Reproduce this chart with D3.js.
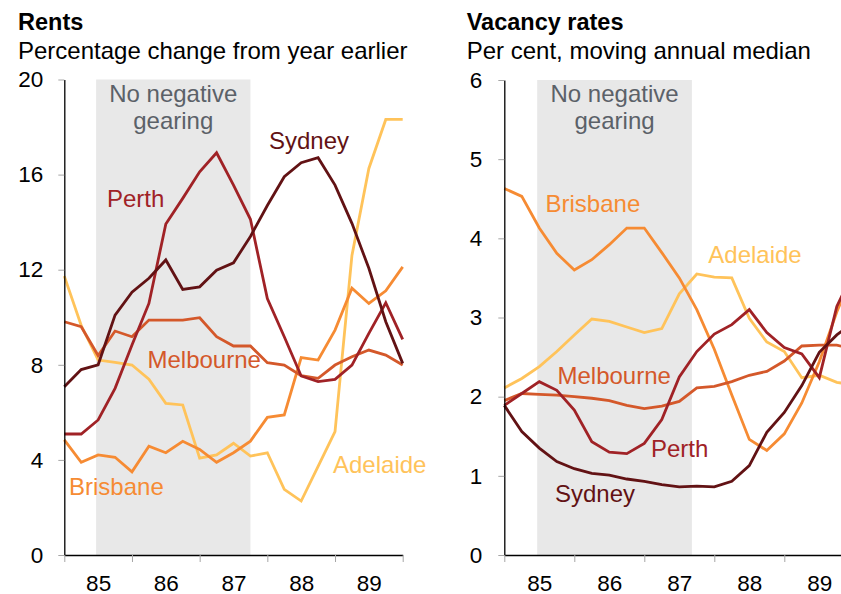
<!DOCTYPE html>
<html>
<head>
<meta charset="utf-8">
<script src="https://cdn.jsdelivr.net/npm/d3@7"></script>
<style>
    html, body { margin: 0; padding: 0; background: #fff; }
    svg { display: block; font-family: "Liberation Sans", Arial, sans-serif; }
</style>
</head>
<body>
<svg id="chart" width="841" height="594"></svg>
<script>
// quarterly observations, 1985 Q1 .. 1990 Q1
const quarters = [1985.00, 1985.25, 1985.50, 1985.75, 1986.00, 1986.25, 1986.50, 1986.75,
    1987.00, 1987.25, 1987.50, 1987.75, 1988.00, 1988.25, 1988.50, 1988.75,
    1989.00, 1989.25, 1989.50, 1989.75, 1990.00];
const yearBreaks = [1985, 1986, 1987, 1988, 1989, 1990];
const yearLabels = ["85", "86", "87", "88", "89"];
const cities = ["Sydney", "Perth", "Melbourne", "Brisbane", "Adelaide"];
const cityColours = ["#621214", "#A02226", "#D4582A", "#F68B33", "#FFC35A"];

// Rents, percentage change from year earlier
const rentSydney    = [7.08, 7.8, 8.0, 10.09, 11.05, 11.64, 12.41, 11.17, 11.28, 11.98, 12.29, 13.4, 14.7, 15.91, 16.5, 16.71, 15.56, 13.95, 12.06, 9.81, 8.06];
const rentPerth     = [5.09, 5.09, 5.68, 7.01, 8.83, 10.58, 13.92, 15.0, 16.12, 16.92, 15.56, 14.12, 10.79, 9.18, 7.53, 7.29, 7.39, 7.99, 9.32, 10.61, 9.07];
const rentMelbourne = [9.81, 9.6, 8.39, 9.42, 9.18, 9.88, 9.88, 9.88, 9.98, 9.18, 8.79, 8.79, 8.09, 7.99, 7.54, 7.43, 7.99, 8.34, 8.62, 8.41, 7.99];
const rentBrisbane  = [4.84, 3.9, 4.21, 4.11, 3.5, 4.58, 4.3, 4.78, 4.44, 3.9, 4.3, 4.79, 5.79, 5.89, 8.3, 8.2, 9.46, 11.22, 10.58, 11.11, 12.12];
const rentAdelaide  = [11.73, 9.65, 8.2, 8.1, 7.99, 7.39, 6.38, 6.31, 4.07, 4.21, 4.7, 4.16, 4.3, 2.76, 2.27, 3.73, 5.19, 12.6, 16.26, 18.32, 18.32];
const rentTicks = [0, 4, 8, 12, 16, 20];

// Vacancy rates, per cent, moving annual median
const vacSydney    = [1.89, 1.56, 1.35, 1.18, 1.09, 1.03, 1.01, 0.96, 0.93, 0.89, 0.86, 0.87, 0.86, 0.93, 1.13, 1.55, 1.80, 2.14, 2.56, 2.78, 2.95];
const vacPerth     = [1.89, 2.04, 2.19, 2.08, 1.83, 1.43, 1.30, 1.28, 1.41, 1.71, 2.25, 2.57, 2.79, 2.91, 3.10, 2.81, 2.62, 2.54, 2.24, 3.14, 3.6];
const vacMelbourne = [1.95, 2.04, 2.03, 2.02, 2.00, 1.98, 1.95, 1.89, 1.85, 1.88, 1.94, 2.11, 2.13, 2.19, 2.27, 2.32, 2.45, 2.64, 2.65, 2.65, 2.6];
const vacBrisbane  = [4.63, 4.53, 4.13, 3.81, 3.60, 3.73, 3.92, 4.13, 4.13, 3.82, 3.50, 3.10, 2.60, 2.02, 1.46, 1.32, 1.53, 1.92, 2.44, 3.07, 3.6];
const vacAdelaide  = [2.11, 2.23, 2.38, 2.57, 2.78, 2.98, 2.95, 2.88, 2.81, 2.86, 3.30, 3.55, 3.51, 3.50, 2.99, 2.69, 2.57, 2.24, 2.27, 2.18, 2.15];
const vacTicks = [0, 1, 2, 3, 4, 5, 6];

// no negative gearing period
const shadeRents = [1985.47, 1987.75];
const shadeVacancy = [1985.47, 1987.68];

const svg = d3.select("#chart");

const drawPanel = (cfg) => {
    const x = d3.scaleLinear().domain([1985, 1990]).range(cfg.xRange);
    const y = d3.scaleLinear().domain([0, cfg.yMax]).range([555, cfg.yTop]);
    const g = svg.append("g");

    g.append("text")
        .attr("x", cfg.titleX).attr("y", 30)
        .attr("font-size", 23.5).attr("font-weight", "bold")
        .text(cfg.title);
    g.append("text")
        .attr("x", cfg.titleX).attr("y", 59)
        .attr("font-size", 24)
        .text(cfg.subtitle);

    g.append("rect")
        .attr("x", x(cfg.shade[0]))
        .attr("y", y(cfg.yMax))
        .attr("width", x(cfg.shade[1]) - x(cfg.shade[0]))
        .attr("height", y(0) - y(cfg.yMax))
        .attr("fill", "#E8E8E8");

    const mid = (x(cfg.shade[0]) + x(cfg.shade[1])) / 2;
    ["No negative", "gearing"].forEach((t, i) => {
        g.append("text")
            .attr("x", mid).attr("y", 101.5 + i * 27.5)
            .attr("text-anchor", "middle")
            .attr("font-size", 24)
            .attr("fill", "#5B6168")
            .text(t);
    });

    const line = d3.line()
        .x((d, i) => x(quarters[i]))
        .y(d => y(d));

    // lighter series first so the darker ones sit on top
    cfg.series.slice().reverse().forEach((s, k) => {
        const idx = cfg.series.length - 1 - k;
        g.append("path")
            .datum(s)
            .attr("d", line)
            .attr("fill", "none")
            .attr("stroke", cityColours[idx])
            .attr("stroke-width", 2.8)
            .attr("stroke-linejoin", "miter");
    });

    cfg.labels.forEach((p, i) => {
        g.append("text")
            .attr("x", p[0]).attr("y", p[1])
            .attr("font-size", 24)
            .attr("fill", cityColours[i])
            .text(cities[i]);
    });

    const yAxis = g.append("g")
        .attr("transform", `translate(${cfg.xRange[0]},0)`)
        .call(d3.axisLeft(y).tickValues(cfg.ticks).tickSize(6).tickSizeOuter(0)
            .tickPadding(cfg.tickPad).tickFormat(d3.format("d")));
    yAxis.select(".domain").attr("stroke", "#000").attr("stroke-width", 1.3);
    yAxis.selectAll(".tick line").attr("stroke", "#A6A6A6");
    yAxis.selectAll(".tick text").attr("font-size", 22.5).attr("fill", "#000")
        .style("font-family", "'Liberation Sans', Arial, sans-serif");

    const xAxis = g.append("g")
        .attr("transform", "translate(0,555)")
        .call(d3.axisBottom(x).tickValues(yearBreaks).tickSize(7).tickSizeOuter(0).tickFormat(""));
    xAxis.select(".domain").attr("stroke", "#000").attr("stroke-width", 1.3);
    xAxis.selectAll(".tick line").attr("stroke", "#A6A6A6");

    const xLab = g.append("g")
        .attr("transform", "translate(0,555)")
        .call(d3.axisBottom(x)
            .tickValues(yearLabels.map((d, i) => yearBreaks[i] + 0.5))
            .tickSize(0)
            .tickPadding(20)
            .tickFormat((d, i) => yearLabels[i]));
    xLab.select(".domain").remove();
    xLab.selectAll(".tick text").attr("font-size", 22.5).attr("fill", "#000")
        .style("font-family", "'Liberation Sans', Arial, sans-serif");
};

drawPanel({
    title: "Rents",
    subtitle: "Percentage change from year earlier",
    titleX: 18,
    xRange: [64.3, 402.7],
    yMax: 20,
    yTop: 79.5,
    ticks: rentTicks,
    tickPad: 15,
    shade: shadeRents,
    series: [rentSydney, rentPerth, rentMelbourne, rentBrisbane, rentAdelaide],
    labels: [[269, 149], [107, 207], [147.5, 368], [69, 495], [333, 472.5]]
});

drawPanel({
    title: "Vacancy rates",
    subtitle: "Per cent, moving annual median",
    titleX: 466.7,
    xRange: [504.3, 854.3],
    yMax: 6,
    yTop: 80,
    ticks: vacTicks,
    tickPad: 16,
    shade: shadeVacancy,
    series: [vacSydney, vacPerth, vacMelbourne, vacBrisbane, vacAdelaide],
    labels: [[555, 502], [651, 456.5], [557.5, 384], [545.5, 211.5], [708.3, 263.3]]
});
</script>
</body>
</html>
